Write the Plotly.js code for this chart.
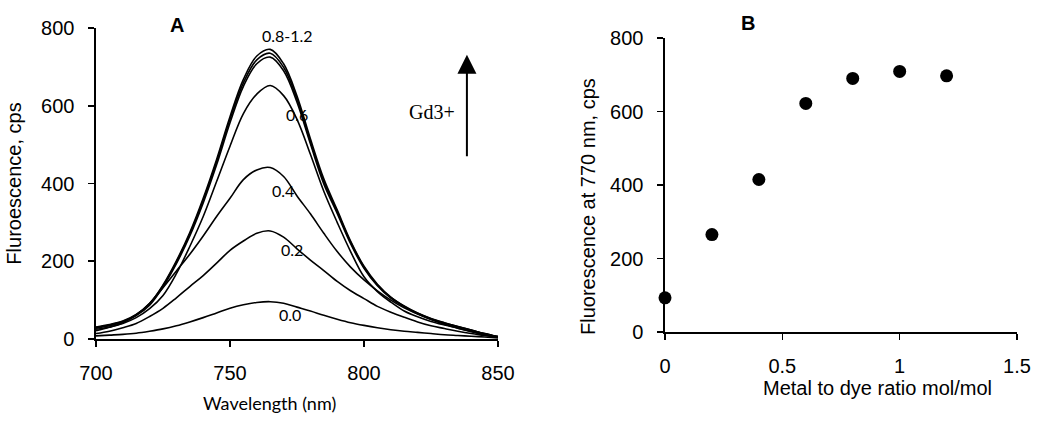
<!DOCTYPE html>
<html>
<head>
<meta charset="utf-8">
<script src="https://cdn.plot.ly/plotly-3.0.1.min.js"></script>
<style>html,body{margin:0;padding:0;background:#fff;}#chart{width:1050px;height:421px;}</style>
</head>
<body>
<div id="chart"></div>
<script>
// Panel A: emission spectra (wavelength, nm)
const wavelength = [700,705,710,715,720,725,730,735,740,745,750,755,760,765,770,775,780,785,790,795,800,805,810,815,820,825,830,835,840,845,850];
const spec_00 = [8,10,12,15,20,26,34,44,55,67,79,88,94,96,92,82,72,61,51,42,35,29,24,20,17,14,11,9,7,5,3];
const spec_02 = [14,20,29,40,58,79,106,135,163,195,228,252,272,278,262,232,203,176,148,124,104,84,69,56,44,34,27,20,14,9,4];
const spec_04 = [21,30,42,62,92,132,175,218,265,315,362,410,435,441,418,368,322,272,225,185,152,124,100,80,64,50,38,28,19,11,5];
const spec_06 = [25,31,40,55,78,112,168,238,315,405,496,580,630,652,626,565,475,380,300,225,160,122,95,72,57,45,36,28,20,12,5];
const spec_08 = [28,34,43,60,87,134,194,265,350,448,556,650,708,725,690,609,502,399,323,245,182,137,105,83,65,51,40,31,22,13,6];
const spec_10 = [31,37,46,63,91,139,201,274,362,462,572,668,728,745,708,625,515,412,332,252,187,141,108,85,67,53,42,32,23,14,6];
const spec_12 = [30,36,45,62,90,137,198,270,357,456,565,659,718,735,699,617,508,405,328,249,185,139,107,84,66,52,41,32,23,14,6];
const spectra = [spec_00, spec_02, spec_04, spec_06, spec_08, spec_10, spec_12];

// Curve labels
const curveLabels = ["0.8-1.2","0.6","0.4","0.2","0.0"];
const labelX = [771.4, 775, 769.6, 773.3, 772.5];
const labelY = [782, 577, 383, 229, 64];

// Panel B: fluorescence at 770 nm vs ratio
const ratio = [0, 0.2, 0.4, 0.6, 0.8, 1.0, 1.2];
const fluor770 = [93, 265, 415, 622, 690, 709, 697];

const xTicksA = [700, 750, 800, 850];
const yTicks = [0, 200, 400, 600, 800];
const xTicksB = [0, 0.5, 1, 1.5];
const xTickTextB = ["0", "0.5", "1", "1.5"];

const traces = spectra.map(s => ({
  x: wavelength, y: s, xaxis: 'x', yaxis: 'y', type: 'scatter', mode: 'lines',
  line: {color: '#000', width: 1.6, shape: 'spline', smoothing: 1}, hoverinfo: 'skip', showlegend: false
}));
traces.push({
  x: ratio, y: fluor770, xaxis: 'x2', yaxis: 'y2', type: 'scatter', mode: 'markers',
  marker: {color: '#000', size: 13}, cliponaxis: false, showlegend: false
});

const sans = 'Liberation Sans, Arial, sans-serif';
const tickFont = {family: sans, size: 20, color: '#000'};
const axBase = {showline: true, linecolor: '#000', linewidth: 1.6, ticks: 'outside', ticklen: 6,
  tickwidth: 1.6, tickcolor: '#000', showgrid: false, zeroline: false, tickfont: tickFont, fixedrange: true};

const annotations = curveLabels.map((t, i) => ({
  x: labelX[i], y: labelY[i], xref: 'x', yref: 'y', text: t, showarrow: false,
  xanchor: 'center', yanchor: 'middle',
  font: {family: 'Lato, sans-serif', size: 16, color: '#000'}
}));
function paperText(text, px, py, font, extra) {
  return Object.assign({x: px/1050, y: 1 - py/421, xref: 'paper', yref: 'paper', text: text,
    showarrow: false, xanchor: 'center', yanchor: 'middle', font: font}, extra || {});
}
annotations.push(
  paperText('<b>A</b>', 177, 25, {family: sans, size: 20, color: '#000'}),
  paperText('Gd3+', 432, 112, {family: 'Liberation Serif, Times New Roman, serif', size: 20, color: '#000'}),
  {x: 838.4, y: 731, xref: 'x', yref: 'y', ax: 838.4, ay: 466, axref: 'x', ayref: 'y', text: '',
   showarrow: true, arrowhead: 2, arrowsize: 1.9, arrowwidth: 2, arrowcolor: '#000'},
  paperText('Wavelength (nm)', 269, 403, {family: 'Lato, sans-serif', size: 18, color: '#000'}),
  paperText('<b>B</b>', 748, 23, {family: sans, size: 20, color: '#000'}),
  paperText('Metal to dye ratio mol/mol', 877, 388, {family: sans, size: 20, color: '#000'}),
  paperText('Fluorescence at 770 nm, cps', 588, 207, {family: sans, size: 20, color: '#000'}, {textangle: -90})
);

const layout = {
  width: 1050, height: 421,
  margin: {l: 0, r: 0, t: 0, b: 0},
  paper_bgcolor: '#fff', plot_bgcolor: '#fff',
  showlegend: false,
  xaxis: Object.assign({}, axBase, {domain: [96/1050, 498/1050], range: [700, 850], tickvals: xTicksA,
    ticklabelstandoff: 9, anchor: 'y'}),
  yaxis: Object.assign({}, axBase, {domain: [1 - 339/421, 1 - 28/421], range: [0, 800], tickvals: yTicks,
    ticklabelstandoff: 10, anchor: 'x',
    title: {text: 'Fluroescence, cps', standoff: 14, font: {family: sans, size: 20, color: '#000'}}}),
  xaxis2: Object.assign({}, axBase, {domain: [665/1050, 1017/1050], range: [0, 1.5], tickvals: xTicksB,
    ticktext: xTickTextB, ticklabelstandoff: 9, anchor: 'y2'}),
  yaxis2: Object.assign({}, axBase, {domain: [1 - 332/421, 1 - 38/421], range: [0, 800], tickvals: yTicks,
    ticklabelstandoff: 10, anchor: 'x2'}),
  annotations: annotations
};

Plotly.newPlot('chart', traces, layout, {displayModeBar: false, staticPlot: true});
</script>
</body>
</html>
